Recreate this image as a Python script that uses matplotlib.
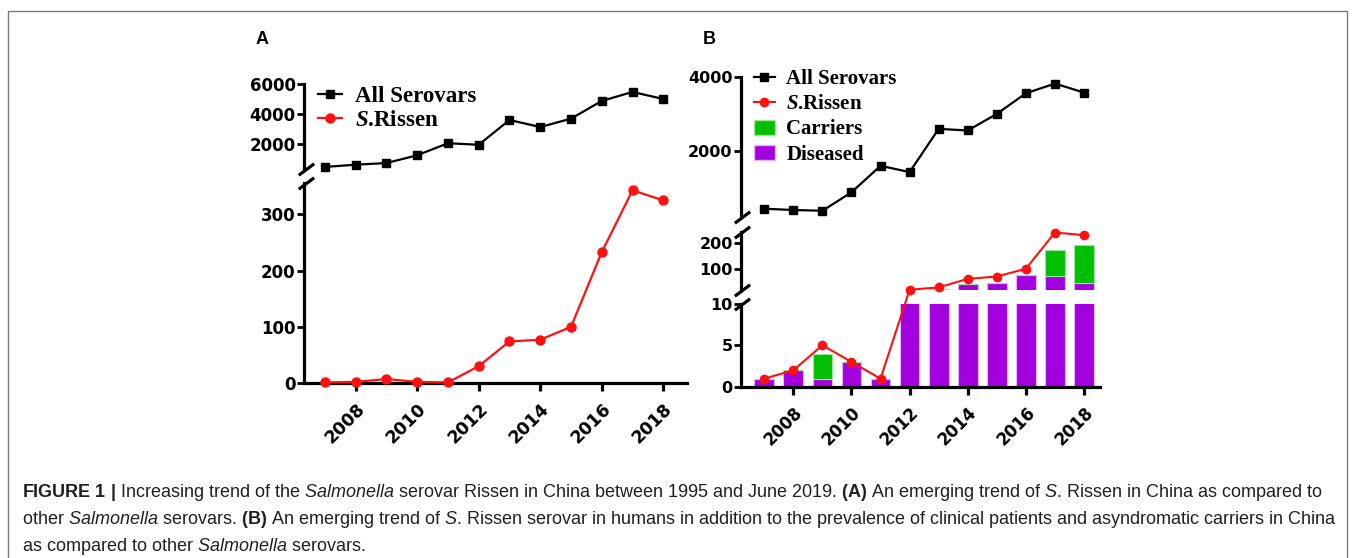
import matplotlib
matplotlib.use('Agg')
import matplotlib.pyplot as plt
from matplotlib.lines import Line2D
from matplotlib.patches import Patch, Rectangle

# data
years = list(range(2007, 2019))
year_ticks = [2008, 2010, 2012, 2014, 2016, 2018]

a_all = [470, 620, 730, 1250, 2050, 1950, 3600, 3130, 3690, 4870, 5470, 5000]
a_rissen = [1, 2, 7, 2, 1, 30, 74, 77, 100, 233, 343, 325]

b_all = [432, 397, 378, 876, 1595, 1424, 2595, 2551, 3000, 3559, 3822, 3578]
b_rissen = [1, 2, 5, 3, 1, 19, 28, 61, 70, 100, 240, 230]
b_diseased = [1, 2, 1, 3, 1, 15, 20, 41, 46, 77, 73, 44]
b_carriers = [0, 0, 3, 0, 0, 0, 0, 0, 0, 0, 100, 146]

a_upper_ticks = [2000, 4000, 6000]
a_lower_ticks = [0, 100, 200, 300]
b_upper_ticks = [2000, 4000]
b_mid_ticks = [100, 200]
b_lower_ticks = [0, 5, 10]

caption = [
    r'$\mathbf{FIGURE\ 1\ |}$ Increasing trend of the $\mathit{Salmonella}$ serovar Rissen in China '
    r'between 1995 and June 2019. $\mathbf{(A)}$ An emerging trend of $\mathit{S}$. Rissen in China as compared to',
    r'other $\mathit{Salmonella}$ serovars. $\mathbf{(B)}$ An emerging trend of $\mathit{S}$. Rissen serovar in '
    r'humans in addition to the prevalence of clinical patients and asyndromatic carriers in China',
    r'as compared to other $\mathit{Salmonella}$ serovars.',
]

PURPLE = '#A300E0'
GREEN = '#00C000'
RED = '#FF1010'

plt.rcParams['mathtext.fontset'] = 'custom'
plt.rcParams['mathtext.rm'] = 'Liberation Sans'
plt.rcParams['mathtext.it'] = 'Liberation Sans:italic'
plt.rcParams['mathtext.bf'] = 'Liberation Sans:bold'
plt.rcParams['mathtext.bfit'] = 'Liberation Serif:italic:bold'

W, H = 1355, 558
fig = plt.figure(figsize=(W / 100, H / 100), dpi=100)


def px_axes(x0, y0, x1, y1):
    # box in image pixels (origin top-left)
    return fig.add_axes([x0 / W, 1 - y1 / H, (x1 - x0) / W, (y1 - y0) / H])


def style_seg(ax, xlim, ylim, yticks, fs, bottom=False):
    ax.set_facecolor('none')
    ax.set_xlim(*xlim)
    ax.set_ylim(*ylim)
    ax.spines['top'].set_visible(False)
    ax.spines['right'].set_visible(False)
    ax.spines['left'].set_linewidth(2.3)
    ax.set_yticks(yticks)
    ax.tick_params(axis='y', width=2.0, length=5, pad=1, labelsize=fs)
    for lab in ax.get_yticklabels():
        lab.set_fontweight('bold')
        lab.set_family('DejaVu Sans')
    if bottom:
        ax.spines['bottom'].set_linewidth(2.3)
        ax.set_xticks(year_ticks)
        ax.set_xticklabels([str(y) for y in year_ticks], rotation=45, ha='right',
                           va='top', rotation_mode='anchor', fontsize=fs + 0.5,
                           fontweight='bold', family='DejaVu Sans')
        ax.tick_params(axis='x', width=2.3, length=6, pad=6)
    else:
        ax.spines['bottom'].set_visible(False)
        ax.tick_params(axis='x', bottom=False, labelbottom=False)


def brk(ax, y):
    ax.plot([0.004], [y], transform=ax.transAxes, marker=[(-1, -0.75), (1, 0.75)],
            markersize=11, mew=2.3, color='k', linestyle='none', clip_on=False)


# ---------- panel A ----------
xa = (2006.32, 2018.77)
a_up = px_axes(304, 84, 687, 169)
a_lo = px_axes(304, 183, 687, 383)
style_seg(a_up, xa, (333, 6000), a_upper_ticks, 12)
style_seg(a_lo, xa, (0, 356), a_lower_ticks, 12, bottom=True)
brk(a_up, 0)
brk(a_lo, 1)

a_up.plot(years, a_all, color='black', lw=1.6, marker='s', ms=6, clip_on=False, zorder=5)
a_lo.plot(years, a_rissen, color=RED, lw=1.6, marker='o', ms=6.5, clip_on=False, zorder=5)

hA = [Line2D([], [], color='black', lw=1.6, marker='s', ms=6),
      Line2D([], [], color=RED, lw=1.6, marker='o', ms=6.5)]
a_up.legend(hA, ['All Serovars', r'$\mathbfit{S}$.Rissen'], loc='upper left',
            bbox_to_anchor=(318 / W, 1 - 86 / H), bbox_transform=fig.transFigure,
            frameon=False, borderpad=0, borderaxespad=0, handlelength=1.05,
            handletextpad=0.55, labelspacing=0.12,
            prop={'family': 'Liberation Serif', 'weight': 'bold', 'size': 16.5})

# ---------- panel B ----------
xb = (2006.2, 2018.55)
b_up = px_axes(741, 77, 1100, 217)
b_mid = px_axes(741, 232, 1100, 290)
b_lo = px_axes(741, 303.5, 1100, 387)
style_seg(b_up, xb, (208, 4000), b_upper_ticks, 11.5)
style_seg(b_mid, xb, (18, 242), b_mid_ticks, 11.5)
style_seg(b_lo, xb, (0, 10), b_lower_ticks, 11.5, bottom=True)
brk(b_up, 0)
brk(b_mid, 1)
brk(b_mid, 0)
brk(b_lo, 1)

for ax in (b_mid, b_lo):
    ax.bar(years, b_diseased, width=0.68, color=PURPLE, edgecolor='#E2B5F5', lw=0.8)
    ax.bar(years, b_carriers, width=0.68, bottom=b_diseased, color=GREEN,
           edgecolor='#9BE59B', lw=0.8)

b_up.plot(years, b_all, color='black', lw=1.6, marker='s', ms=6, clip_on=False, zorder=5)


def to_fig(ax, x, y):
    return fig.transFigure.inverted().transform(ax.transData.transform((x, y)))


# S. Rissen line runs across the broken axis, so draw it in figure space
pts = [to_fig(b_mid if v > 10 else b_lo, yr, v) for yr, v in zip(years, b_rissen)]
fig.add_artist(Line2D([p[0] for p in pts], [p[1] for p in pts], transform=fig.transFigure,
                      color=RED, lw=1.5, marker='o', ms=6, zorder=6))

hB = [Line2D([], [], color='black', lw=1.6, marker='s', ms=6),
      Line2D([], [], color=RED, lw=1.5, marker='o', ms=6),
      Patch(facecolor=GREEN, edgecolor='#9BE59B'),
      Patch(facecolor=PURPLE, edgecolor='#E2B5F5')]
b_up.legend(hB, ['All Serovars', r'$\mathbfit{S}$.Rissen', 'Carriers', 'Diseased'],
            loc='upper left', bbox_to_anchor=(754 / W, 1 - 69 / H),
            bbox_transform=fig.transFigure, frameon=False, borderpad=0, borderaxespad=0,
            handlelength=1.0, handleheight=0.75, handletextpad=0.55, labelspacing=0.25,
            prop={'family': 'Liberation Serif', 'weight': 'bold', 'size': 15})

# panel letters
fig.text(262 / W, 1 - 40 / H, 'A', ha='center', va='center', fontsize=13,
         fontweight='bold', family='Liberation Sans')
fig.text(709 / W, 1 - 40 / H, 'B', ha='center', va='center', fontsize=13,
         fontweight='bold', family='Liberation Sans')

# frame and caption
fig.add_artist(Rectangle((8 / W, -0.1), (1347 - 8) / W, 1.1 - 11 / H, transform=fig.transFigure,
                         fill=False, edgecolor='#7a7a7a', lw=1.0))
for i, line in enumerate(caption):
    fig.text(22 / W, 1 - (497 + 27 * i) / H, line, ha='left', va='baseline', fontsize=13.0,
             color='#231F20', family='Liberation Sans')

fig.savefig('out.png', dpi=100)
